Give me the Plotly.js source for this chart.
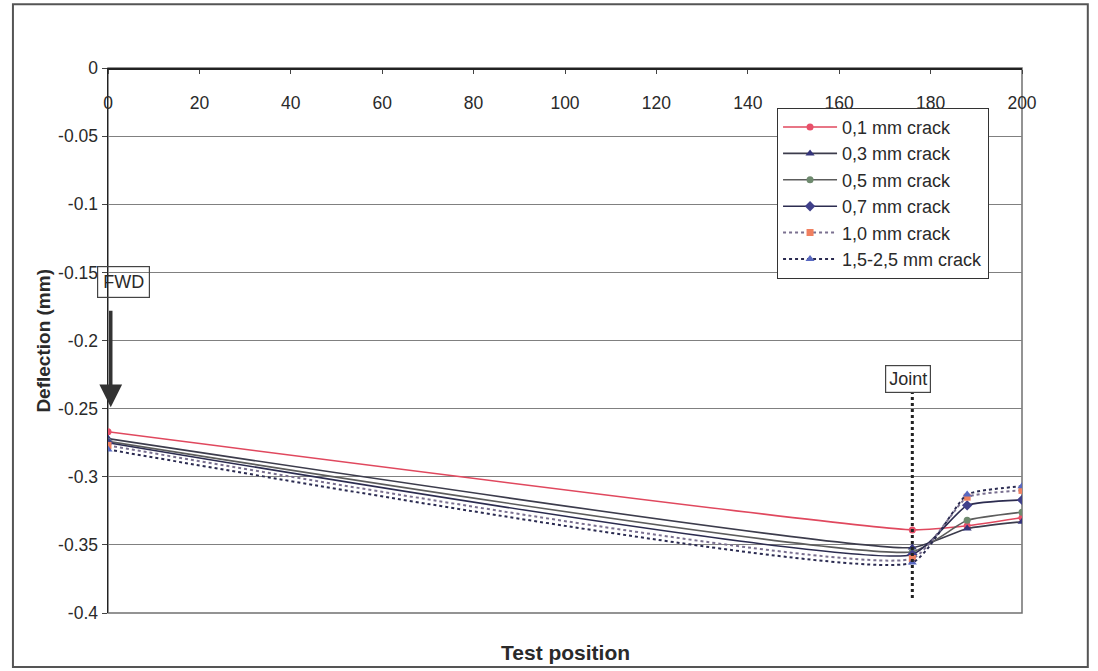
<!DOCTYPE html>
<html>
<head>
<meta charset="utf-8">
<script src="https://cdn.plot.ly/plotly-3.0.1.min.js"></script>
<style>html,body{margin:0;padding:0;background:#fff;}#chart{width:1098px;height:671px;}</style>
</head>
<body>
<div id="chart"></div>
<script>
// Test positions
var positions = [0, 176, 188, 200];
// Deflection (mm) per crack width
var crack01 = [-0.267, -0.339, -0.336, -0.330];
var crack03 = [-0.272, -0.352, -0.338, -0.333];
var crack05 = [-0.274, -0.355, -0.332, -0.326];
var crack07 = [-0.275, -0.357, -0.321, -0.317];
var crack10 = [-0.277, -0.360, -0.315, -0.310];
var crack15 = [-0.280, -0.363, -0.313, -0.307];
var seriesNames = ['0,1 mm crack', '0,3 mm crack', '0,5 mm crack', '0,7 mm crack', '1,0 mm crack', '1,5-2,5 mm crack'];
var yTickVals = [0, -0.05, -0.1, -0.15, -0.2, -0.25, -0.3, -0.35, -0.4];
var yTickText = ['0', '-0.05', '-0.1', '-0.15', '-0.2', '-0.25', '-0.3', '-0.35', '-0.4'];
var xTickVals = [0, 20, 40, 60, 80, 100, 120, 140, 160, 180, 200];

var styles = [
  {line: {color: '#e0485e', width: 1.6}, marker: {symbol: 'circle', color: '#e8506a', size: 7}},
  {line: {color: '#3c3c4c', width: 1.6}, marker: {symbol: 'triangle-up', color: '#34347a', size: 8}},
  {line: {color: '#5c5c5c', width: 1.6}, marker: {symbol: 'circle', color: '#6e8a6e', size: 7}},
  {line: {color: '#2c2c50', width: 1.6}, marker: {symbol: 'diamond', color: '#40408a', size: 8}},
  {line: {color: '#7a7090', width: 2, dash: 'dot'}, marker: {symbol: 'square', color: '#f08060', size: 7}},
  {line: {color: '#2a2a50', width: 2, dash: 'dot'}, marker: {symbol: 'triangle-up', color: '#5868c0', size: 8}}
];
var allSeries = [crack01, crack03, crack05, crack07, crack10, crack15];

var traces = allSeries.map(function (vals, i) {
  var s = styles[i];
  var line = Object.assign({shape: 'spline', smoothing: 0.45}, s.line);
  return {
    x: positions, y: vals, name: seriesNames[i], type: 'scatter', mode: 'lines+markers',
    line: line, marker: s.marker, legendgroup: 'g' + i
  };
});

var font = 'Arial, "Liberation Sans", sans-serif';

var layout = {
  width: 1098, height: 671,
  margin: {l: 108, r: 76, t: 68, b: 58},
  paper_bgcolor: '#ffffff', plot_bgcolor: '#ffffff',
  font: {family: font, size: 17, color: '#2a2a2a'},
  showlegend: true,
  legend: {
    x: 0.732, y: 0.927, xanchor: 'left', yanchor: 'top',
    bgcolor: '#ffffff', bordercolor: '#333333', borderwidth: 1,
    font: {family: font, size: 18, color: '#2a2a2a'},
    tracegroupgap: 0, itemwidth: 54
  },
  xaxis: {
    range: [0, 200], anchor: 'free', position: 1, side: 'bottom', tickvals: xTickVals,
    showline: true, linecolor: '#222222', linewidth: 1.5,
    ticks: 'outside', ticklen: 4, tickcolor: '#444',
    ticklabelstandoff: 14,
    showgrid: false, zeroline: false,
    tickfont: {family: font, size: 17.5, color: '#2a2a2a'}
  },
  yaxis: {
    range: [-0.4, 0], tickvals: yTickVals, ticktext: yTickText,
    showline: true, linecolor: '#222222', linewidth: 1.5,
    ticks: 'outside', ticklen: 5, tickcolor: '#444',
    showgrid: true, gridcolor: '#808080', gridwidth: 1, zeroline: false,
    tickfont: {family: font, size: 17.5, color: '#2a2a2a'}
  },
  shapes: [
    {type: 'rect', xref: 'paper', yref: 'paper', x0: 0, x1: 1, y0: 0, y1: 1, line: {color: '#707070', width: 1.5}, layer: 'below'},
    {type: 'rect', xref: 'paper', yref: 'paper', x0: -0.104, x1: 1.072, y0: -0.099, y1: 1.117, line: {color: '#555555', width: 2}},
    {type: 'line', xref: 'x', yref: 'y', x0: 176, x1: 176, y0: -0.237, y1: -0.390, line: {color: '#222222', width: 3, dash: 'dot'}}
  ],
  annotations: [
    {xref: 'paper', yref: 'paper', x: 0.5, y: -0.073, xanchor: 'center', yanchor: 'middle', showarrow: false,
     text: '<b>Test position</b>', font: {family: font, size: 21, color: '#2a2a2a'}},
    {xref: 'paper', yref: 'paper', x: -0.071, y: 0.5, xanchor: 'center', yanchor: 'middle', showarrow: false, textangle: -90,
     text: '<b>Deflection (mm)</b>', font: {family: font, size: 19, color: '#2a2a2a'}},
    {xref: 'x', yref: 'y', x: 3.4, y: -0.157, xanchor: 'center', yanchor: 'middle', showarrow: false,
     text: 'FWD', font: {family: font, size: 18, color: '#2a2a2a'}, bordercolor: '#444', borderwidth: 1.2, borderpad: 5, bgcolor: 'rgba(255,255,255,0)'},
    {xref: 'x', yref: 'y', x: 0.6, y: -0.249, ax: 0, ay: -98, axref: 'pixel', ayref: 'pixel', showarrow: true, text: '',
     arrowhead: 2, arrowsize: 1.3, arrowwidth: 3.5, arrowcolor: '#333333'},
    {xref: 'x', yref: 'y', x: 175, y: -0.228, xanchor: 'center', yanchor: 'middle', showarrow: false,
     text: 'Joint', font: {family: font, size: 18, color: '#2a2a2a'}, bordercolor: '#444', borderwidth: 1.2, borderpad: 3, bgcolor: '#ffffff'}
  ]
};

Plotly.newPlot('chart', traces, layout, {displayModeBar: false, staticPlot: true});
</script>
</body>
</html>
